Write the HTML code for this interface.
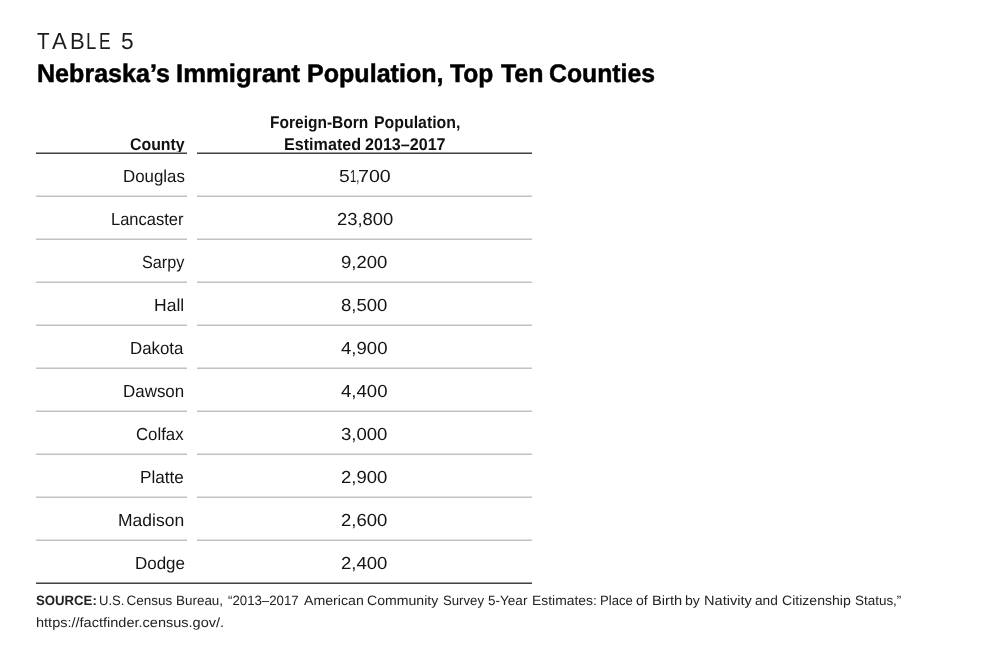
<!DOCTYPE html>
<html lang="en">
<head>
<meta charset="utf-8">
<title>Table 5</title>
<style>
html,body{margin:0;padding:0;background:#fff;}
body{width:1000px;height:657px;position:relative;overflow:hidden;font-family:"Liberation Sans",sans-serif;color:#1a1a1a;text-rendering:geometricPrecision;}
.ln{position:absolute;left:0;width:1000px;height:0;line-height:1;white-space:nowrap;}
.w{position:absolute;top:0;display:inline-block;white-space:nowrap;transform-origin:0 50%;}
.hl{position:absolute;height:0;border-top:1px solid #9c9c9c;border-bottom:1px solid #424242;}
.rl{position:absolute;height:0;border-top:1px solid #e0e0e0;border-bottom:1px solid #c2c2c2;}
</style>
</head>
<body>
<div class="ln" style="top:30px;font-size:23.2px;color:#1c1c1c;"><span class="w" style="left:36.60px;transform:scale(0.8857,1)">T</span><span class="w" style="left:51.60px;transform:scale(0.9600,1)">A</span><span class="w" style="left:69.50px;transform:scale(0.9500,1)">B</span><span class="w" style="left:85.80px;transform:scale(0.8000,1)">L</span><span class="w" style="left:99.30px;transform:scale(0.7500,1)">E</span> <span class="w" style="left:120.82px;transform:scale(0.9818,1)">5</span></div>
<div class="ln" style="top:62px;font-size:25.5px;font-weight:bold;color:#000;-webkit-text-stroke:0.5px #000;"><span class="w" style="left:36.82px;transform:scale(0.9835,1)">Nebraska’s</span> <span class="w" style="left:176.39px;transform:scale(1.0074,1)">Immigrant</span> <span class="w" style="left:307.32px;transform:scale(0.9832,1)">Population,</span> <span class="w" style="left:450.00px;transform:scale(0.9659,1)">Top</span> <span class="w" style="left:500.50px;transform:scale(0.9762,1)">Ten</span> <span class="w" style="left:549.03px;transform:scale(0.9720,1)">Counties</span></div>
<div class="ln" style="top:136px;font-size:17px;font-weight:bold;color:#111;"><span class="w" style="left:129.77px;transform:scale(0.9333,1)">County</span></div>
<div class="ln" style="top:114px;font-size:17px;font-weight:bold;color:#111;"><span class="w" style="left:270.29px;transform:scale(0.9132,1)">Foreign-Born</span> <span class="w" style="left:373.57px;transform:scale(0.9333,1)">Population,</span></div>
<div class="ln" style="top:136px;font-size:17px;font-weight:bold;color:#111;"><span class="w" style="left:283.55px;transform:scale(0.9494,1)">Estimated</span> <span class="w" style="left:364.55px;transform:scale(0.9464,1)">2013–2017</span></div>
<div class="ln" style="top:168px;font-size:17.4px;color:#141414;"><span class="w" style="left:122.53px;transform:scale(0.9694,1)">Douglas</span></div>
<div class="ln" style="top:168px;font-size:17.4px;color:#141414;"><span class="w" style="left:338.99px;transform:scale(1.1125,1)">5</span><span class="w" style="left:349.65px;transform:scale(0.6500,1)">1,</span><span class="w" style="left:357.87px;transform:scale(1.1296,1)">700</span></div>
<div class="ln" style="top:211px;font-size:17.4px;color:#141414;"><span class="w" style="left:111.45px;transform:scale(0.9493,1)">Lancaster</span></div>
<div class="ln" style="top:211px;font-size:17.4px;color:#141414;"><span class="w" style="left:336.74px;transform:scale(1.0588,1)">23,800</span></div>
<div class="ln" style="top:254px;font-size:17.4px;color:#141414;"><span class="w" style="left:141.57px;transform:scale(0.9341,1)">Sarpy</span></div>
<div class="ln" style="top:254px;font-size:17.4px;color:#141414;"><span class="w" style="left:341.43px;transform:scale(1.0667,1)">9,200</span></div>
<div class="ln" style="top:297px;font-size:17.4px;color:#141414;"><span class="w" style="left:154.39px;transform:scale(1.0071,1)">Hall</span></div>
<div class="ln" style="top:297px;font-size:17.4px;color:#141414;"><span class="w" style="left:341.43px;transform:scale(1.0667,1)">8,500</span></div>
<div class="ln" style="top:340px;font-size:17.4px;color:#141414;"><span class="w" style="left:130.33px;transform:scale(0.9685,1)">Dakota</span></div>
<div class="ln" style="top:340px;font-size:17.4px;color:#141414;"><span class="w" style="left:341.40px;transform:scale(1.0674,1)">4,900</span></div>
<div class="ln" style="top:383px;font-size:17.4px;color:#141414;"><span class="w" style="left:123.23px;transform:scale(0.9738,1)">Dawson</span></div>
<div class="ln" style="top:383px;font-size:17.4px;color:#141414;"><span class="w" style="left:341.40px;transform:scale(1.0674,1)">4,400</span></div>
<div class="ln" style="top:426px;font-size:17.4px;color:#141414;"><span class="w" style="left:136.34px;transform:scale(0.9646,1)">Colfax</span></div>
<div class="ln" style="top:426px;font-size:17.4px;color:#141414;"><span class="w" style="left:341.43px;transform:scale(1.0667,1)">3,000</span></div>
<div class="ln" style="top:469px;font-size:17.4px;color:#141414;"><span class="w" style="left:140.21px;transform:scale(0.9860,1)">Platte</span></div>
<div class="ln" style="top:469px;font-size:17.4px;color:#141414;"><span class="w" style="left:341.43px;transform:scale(1.0667,1)">2,900</span></div>
<div class="ln" style="top:512px;font-size:17.4px;color:#141414;"><span class="w" style="left:118.19px;transform:scale(1.0062,1)">Madison</span></div>
<div class="ln" style="top:512px;font-size:17.4px;color:#141414;"><span class="w" style="left:341.43px;transform:scale(1.0667,1)">2,600</span></div>
<div class="ln" style="top:555px;font-size:17.4px;color:#141414;"><span class="w" style="left:134.82px;transform:scale(0.9755,1)">Dodge</span></div>
<div class="ln" style="top:555px;font-size:17.4px;color:#141414;"><span class="w" style="left:341.43px;transform:scale(1.0667,1)">2,400</span></div>
<div class="ln" style="top:594px;font-size:13.5px;color:#222;"><b class="w" style="left:35.72px;transform:scale(0.9767,1)">SOURCE:</b> <span class="w" style="left:98.63px;transform:scale(0.9667,1)">U.S.</span> <span class="w" style="left:126.60px;transform:scale(1.0000,1)">Census</span> <span class="w" style="left:176.20px;transform:scale(0.9956,1)">Bureau,</span> <span class="w" style="left:228.40px;transform:scale(0.9803,1)">“2013–2017</span> <span class="w" style="left:304.00px;transform:scale(1.0482,1)">American</span> <span class="w" style="left:366.96px;transform:scale(1.0433,1)">Community</span> <span class="w" style="left:442.82px;transform:scale(0.9756,1)">Survey</span> <span class="w" style="left:488.40px;transform:scale(1.0026,1)">5-Year</span> <span class="w" style="left:531.87px;transform:scale(1.0279,1)">Estimates:</span> <span class="w" style="left:599.93px;transform:scale(0.9688,1)">Place</span> <span class="w" style="left:636.16px;transform:scale(1.0400,1)">of</span> <span class="w" style="left:651.62px;transform:scale(1.0846,1)">Birth</span> <span class="w" style="left:684.95px;transform:scale(1.0462,1)">by</span> <span class="w" style="left:703.82px;transform:scale(1.0814,1)">Nativity</span> <span class="w" style="left:755.49px;transform:scale(1.0143,1)">and</span> <span class="w" style="left:782.06px;transform:scale(1.0422,1)">Citizenship</span> <span class="w" style="left:855.20px;transform:scale(0.9956,1)">Status,”</span></div>
<div class="ln" style="top:616px;font-size:13.5px;color:#222;"><span class="w" style="left:35.62px;transform:scale(1.0757,1)">https://factfinder.census.gov/.</span></div>
<div class="hl" style="left:36px;width:151px;top:152px"></div>
<div class="hl" style="left:197px;width:335px;top:152px"></div>
<div class="rl" style="left:36px;width:151px;top:195px"></div><div class="rl" style="left:197px;width:335px;top:195px"></div>
<div class="rl" style="left:36px;width:151px;top:238px"></div><div class="rl" style="left:197px;width:335px;top:238px"></div>
<div class="rl" style="left:36px;width:151px;top:281px"></div><div class="rl" style="left:197px;width:335px;top:281px"></div>
<div class="rl" style="left:36px;width:151px;top:324px"></div><div class="rl" style="left:197px;width:335px;top:324px"></div>
<div class="rl" style="left:36px;width:151px;top:367px"></div><div class="rl" style="left:197px;width:335px;top:367px"></div>
<div class="rl" style="left:36px;width:151px;top:410px"></div><div class="rl" style="left:197px;width:335px;top:410px"></div>
<div class="rl" style="left:36px;width:151px;top:453px"></div><div class="rl" style="left:197px;width:335px;top:453px"></div>
<div class="rl" style="left:36px;width:151px;top:496px"></div><div class="rl" style="left:197px;width:335px;top:496px"></div>
<div class="rl" style="left:36px;width:151px;top:539px"></div><div class="rl" style="left:197px;width:335px;top:539px"></div>
<div class="hl" style="left:36px;width:496px;top:582px"></div>
</body>
</html>
